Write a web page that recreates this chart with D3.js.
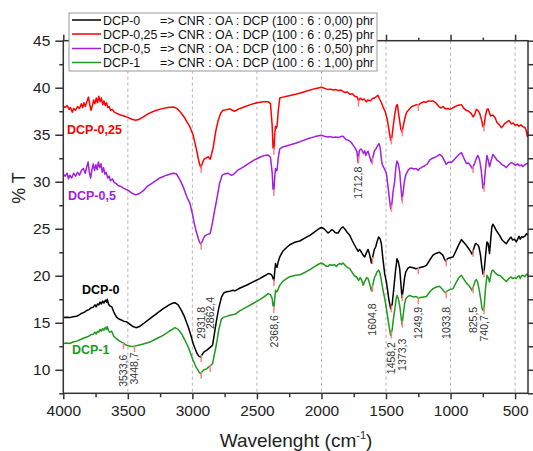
<!DOCTYPE html>
<html><head><meta charset="utf-8">
<script src="https://cdn.jsdelivr.net/npm/d3@7"></script>
<style>body{margin:0;background:#fff} svg{display:block}</style>
</head><body><svg id="c" width="533" height="451"></svg>
<script>
// ---------- DATA ----------
const xTicks = [4000, 3500, 3000, 2500, 2000, 1500, 1000, 500];
const xMinorTicks = [3750, 3250, 2750, 2250, 1750, 1250, 750];
const yTicks = [10, 15, 20, 25, 30, 35, 40, 45];
const yMinorTicks = [7.5, 12.5, 17.5, 22.5, 27.5, 32.5, 37.5, 42.5];
const gridTicks = [3500, 3000, 2500, 2000, 1500, 1000, 500];

const seriesNames = ["DCP-0", "DCP-0,25", "DCP-0,5", "DCP-1"];
const legendDesc = [
  "=> CNR : OA : DCP (100 : 6 : 0,00) phr",
  "=> CNR : OA : DCP (100 : 6 : 0,25) phr",
  "=> CNR : OA : DCP (100 : 6 : 0,50) phr",
  "=> CNR : OA : DCP (100 : 6 : 1,00) phr"
];

// [wavenumber cm-1, %T]
const dcp025 = [[4000,38.0],[3985,37.9],[3970,38.1],[3955,37.7],[3945,37.9],[3930,37.4],[3920,37.8],[3905,37.6],[3890,38.0],[3875,37.8],[3860,38.3],[3850,37.9],[3840,38.4],[3830,38.0],[3815,38.6],[3805,39.0],[3795,38.2],[3785,37.6],[3775,38.1],[3765,38.7],[3755,38.3],[3745,38.9],[3735,38.4],[3725,39.1],[3715,38.5],[3705,38.9],[3695,38.2],[3685,38.6],[3675,38.1],[3665,38.4],[3655,37.9],[3645,38.0],[3635,37.6],[3620,37.7],[3605,37.4],[3590,37.3],[3575,37.2],[3555,37.1],[3530,37.0],[3500,36.85],[3470,36.65],[3440,36.55],[3410,36.65],[3380,36.9],[3340,37.25],[3290,37.55],[3240,37.75],[3190,37.9],[3150,37.95],[3120,37.8],[3095,37.45],[3060,36.8],[3020,35.85],[2995,35.0],[2980,34.1],[2965,33.2],[2955,32.5],[2945,31.9],[2934,31.5],[2922,32.0],[2910,32.4],[2895,32.5],[2878,32.65],[2862,32.4],[2850,33.0],[2838,33.7],[2820,35.3],[2800,36.55],[2780,37.3],[2762,37.6],[2740,37.65],[2710,37.75],[2690,37.6],[2671,37.5],[2640,37.75],[2600,37.95],[2550,38.2],[2500,38.4],[2450,38.5],[2413,38.5],[2395,38.3],[2382,36.0],[2375,33.6],[2368,33.5],[2362,35.0],[2356,35.9],[2350,35.7],[2344,35.9],[2335,37.5],[2323,38.9],[2300,39.0],[2250,39.15],[2200,39.3],[2150,39.5],[2100,39.7],[2050,39.9],[2000,40.05],[1970,39.9],[1950,39.8],[1930,39.85],[1910,39.75],[1890,39.8],[1870,39.7],[1850,39.75],[1820,39.5],[1800,39.55],[1780,39.3],[1760,39.35],[1742,39.1],[1725,39.05],[1712,38.6],[1700,38.9],[1685,38.7],[1670,38.8],[1652,38.5],[1640,38.7],[1620,38.6],[1605,38.85],[1590,38.9],[1575,39.05],[1562,39.2],[1550,38.8],[1535,38.4],[1523,37.95],[1505,37.4],[1490,36.6],[1475,35.3],[1464,34.4],[1455,34.7],[1445,35.8],[1432,37.2],[1420,38.1],[1412,38.2],[1400,37.0],[1385,35.6],[1376,35.3],[1368,35.8],[1355,36.7],[1340,37.4],[1320,37.7],[1300,38.0],[1280,38.1],[1265,38.2],[1250,38.15],[1230,38.35],[1210,38.5],[1190,38.45],[1170,38.6],[1150,38.55],[1136,38.6],[1115,38.4],[1090,38.0],[1075,37.85],[1059,38.0],[1040,37.75],[1020,37.8],[1007,37.7],[990,37.8],[970,37.95],[950,38.1],[930,38.15],[916,38.2],[900,37.85],[880,37.6],[860,37.5],[839,37.25],[825,36.9],[812,37.2],[800,37.7],[788,37.6],[775,37.3],[760,36.6],[749,35.85],[740,36.0],[730,37.0],[718,37.7],[710,37.75],[700,37.4],[690,37.0],[672,37.1],[655,36.8],[640,36.3],[625,36.1],[607,35.75],[595,35.9],[580,36.2],[565,36.35],[550,36.5],[543,36.45],[530,36.15],[515,36.25],[500,36.0],[485,36.1],[470,35.9],[455,36.05],[440,35.85],[425,35.8],[415,35.5],[405,34.8],[400,35.3]];

const dcp05 = [[4000,30.8],[3985,30.6],[3970,30.9],[3960,30.3],[3950,30.7],[3935,30.4],[3920,30.9],[3905,30.6],[3890,31.0],[3875,30.7],[3860,31.2],[3845,31.4],[3830,30.9],[3818,31.6],[3808,32.1],[3798,31.0],[3788,30.4],[3778,31.3],[3768,31.9],[3758,31.2],[3748,31.8],[3738,31.3],[3728,32.1],[3718,31.5],[3708,31.9],[3698,31.0],[3688,31.5],[3678,30.8],[3668,31.0],[3655,30.4],[3645,30.6],[3635,30.1],[3620,30.3],[3605,29.9],[3590,29.8],[3575,29.6],[3555,29.5],[3530,29.3],[3500,29.1],[3470,28.8],[3440,28.6],[3410,28.75],[3380,29.05],[3354,29.45],[3300,29.95],[3252,30.4],[3200,30.7],[3150,30.9],[3125,30.85],[3100,30.3],[3071,29.45],[3040,28.3],[3019,27.7],[3000,26.6],[2986,25.6],[2970,24.7],[2955,24.0],[2945,23.6],[2934,23.35],[2922,23.7],[2910,24.1],[2898,24.3],[2880,24.4],[2862,24.5],[2845,25.6],[2830,26.8],[2813,28.0],[2790,29.8],[2769,30.7],[2745,30.85],[2723,30.9],[2700,30.7],[2684,30.75],[2650,31.2],[2600,31.6],[2580,31.8],[2530,32.25],[2478,32.6],[2440,32.8],[2413,32.85],[2395,32.6],[2382,31.0],[2375,29.2],[2368,29.1],[2362,30.5],[2356,31.4],[2350,31.2],[2344,31.2],[2335,32.5],[2323,33.5],[2300,33.7],[2246,33.9],[2200,34.1],[2150,34.35],[2100,34.6],[2050,34.8],[2000,34.95],[1970,34.8],[1950,34.75],[1930,34.8],[1910,34.7],[1890,34.75],[1870,34.7],[1850,34.8],[1833,34.85],[1810,34.5],[1790,34.4],[1770,34.2],[1755,33.9],[1740,33.6],[1725,33.2],[1717,32.05],[1708,33.2],[1700,33.45],[1690,33.45],[1675,33.0],[1665,33.3],[1657,32.8],[1648,33.1],[1639,33.25],[1625,32.6],[1613,32.05],[1600,32.7],[1590,33.3],[1580,33.45],[1567,33.8],[1554,34.05],[1545,33.6],[1535,32.3],[1528,31.8],[1510,31.3],[1497,30.9],[1485,29.5],[1472,28.0],[1464,27.15],[1455,27.6],[1445,29.0],[1433,30.0],[1424,31.5],[1415,32.2],[1405,31.9],[1394,31.05],[1385,29.5],[1376,28.05],[1368,28.8],[1358,30.0],[1347,30.7],[1330,31.2],[1316,31.4],[1300,31.45],[1285,31.35],[1265,31.4],[1250,31.2],[1240,31.4],[1220,31.55],[1200,31.7],[1180,31.9],[1162,32.3],[1140,32.5],[1120,32.6],[1100,32.75],[1085,32.9],[1065,32.7],[1050,32.3],[1033,31.85],[1015,32.1],[994,32.05],[975,32.3],[955,32.6],[935,32.9],[916,33.1],[900,32.6],[878,31.95],[860,32.0],[845,31.7],[831,31.4],[815,31.9],[800,32.5],[788,32.8],[775,32.3],[762,31.2],[749,29.3],[740,29.6],[730,31.3],[718,32.8],[710,32.4],[698,31.6],[685,32.3],[672,32.9],[655,32.6],[640,32.3],[620,32.1],[600,31.8],[585,31.7],[568,31.5],[550,31.8],[530,32.05],[510,31.9],[495,31.75],[480,31.9],[465,31.7],[450,31.8],[440,31.6],[425,31.8],[409,31.95],[400,31.9]];

const dcp0 = [[4000,15.55],[3975,15.6],[3950,15.55],[3925,15.65],[3897,15.7],[3880,15.8],[3860,16.0],[3840,16.1],[3819,16.3],[3800,16.4],[3785,16.6],[3768,16.65],[3755,16.9],[3745,16.7],[3735,17.0],[3725,16.9],[3715,17.2],[3705,17.0],[3695,17.3],[3685,17.1],[3675,17.4],[3665,17.2],[3660,17.5],[3650,17.0],[3640,16.8],[3625,16.7],[3610,16.2],[3600,15.9],[3587,15.6],[3570,15.4],[3550,15.3],[3530,15.15],[3509,15.1],[3480,14.8],[3460,14.6],[3437,14.48],[3410,14.6],[3380,14.9],[3329,15.44],[3280,15.95],[3226,16.5],[3180,16.9],[3150,17.1],[3135,17.14],[3110,16.9],[3084,16.3],[3060,15.6],[3032,14.55],[3010,13.6],[2994,12.77],[2975,12.1],[2963,11.7],[2950,11.45],[2937,11.35],[2925,11.6],[2910,11.9],[2890,12.06],[2870,12.3],[2844,12.6],[2830,13.8],[2813,15.25],[2795,16.6],[2774,17.75],[2755,18.2],[2735,18.3],[2710,18.35],[2690,18.45],[2671,18.4],[2630,18.7],[2581,18.99],[2530,19.35],[2478,19.7],[2440,20.0],[2413,20.23],[2395,20.2],[2382,20.0],[2375,19.7],[2368,19.5],[2362,20.5],[2356,21.3],[2350,21.0],[2344,20.9],[2335,21.5],[2323,22.0],[2300,22.6],[2270,23.0],[2246,23.3],[2200,23.6],[2168,23.7],[2130,24.0],[2090,24.3],[2050,24.7],[2020,25.0],[2000,25.13],[1980,25.0],[1960,24.7],[1949,24.55],[1935,24.7],[1920,24.9],[1910,24.85],[1895,24.6],[1880,24.55],[1871,24.55],[1855,24.9],[1845,25.1],[1833,25.2],[1815,24.9],[1800,24.6],[1781,24.3],[1760,23.7],[1745,23.3],[1729,22.9],[1715,22.6],[1705,22.8],[1690,22.5],[1678,22.2],[1665,22.0],[1650,22.5],[1639,22.8],[1628,22.3],[1613,21.36],[1600,22.2],[1590,22.8],[1580,23.06],[1570,23.6],[1557,24.13],[1545,23.9],[1536,23.4],[1524,21.8],[1510,20.2],[1498,19.4],[1489,18.6],[1478,17.5],[1464,16.5],[1452,17.0],[1441,18.45],[1428,20.3],[1415,21.8],[1405,21.5],[1394,20.76],[1385,19.2],[1376,17.67],[1366,18.6],[1356,19.8],[1347,20.4],[1330,20.8],[1316,20.93],[1290,20.85],[1270,20.75],[1252,20.8],[1230,20.9],[1210,20.95],[1187,21.1],[1160,21.7],[1136,22.2],[1110,22.4],[1085,22.5],[1060,22.2],[1048,21.8],[1038,21.57],[1025,21.8],[1010,21.9],[981,22.0],[960,22.6],[940,23.2],[925,23.6],[916,23.85],[900,23.6],[878,23.24],[860,22.9],[845,22.6],[834,22.3],[820,22.9],[808,23.4],[800,23.4],[790,23.3],[780,23.06],[768,22.2],[758,21.0],[749,20.2],[740,20.5],[730,22.0],[718,23.6],[708,23.4],[698,22.36],[688,24.0],[680,25.2],[672,25.48],[660,25.2],[645,24.8],[630,24.5],[620,24.3],[600,23.8],[585,23.6],[568,23.4],[555,23.7],[540,24.0],[530,24.1],[520,23.8],[505,23.9],[491,23.6],[480,23.9],[470,24.2],[460,23.9],[450,24.15],[440,24.1],[425,24.2],[409,24.5],[400,24.3]];

const dcp1 = [[4000,12.8],[3975,12.85],[3950,12.8],[3925,12.95],[3897,13.05],[3870,13.2],[3845,13.35],[3819,13.48],[3800,13.6],[3785,13.75],[3768,13.77],[3755,14.0],[3745,13.8],[3735,14.1],[3725,14.0],[3715,14.3],[3705,14.1],[3695,14.4],[3685,14.2],[3675,14.5],[3665,14.3],[3660,14.6],[3650,14.2],[3640,14.0],[3625,14.1],[3610,13.6],[3598,13.4],[3587,13.3],[3570,13.1],[3550,12.95],[3535,12.84],[3509,12.6],[3480,12.5],[3453,12.49],[3420,12.6],[3380,12.75],[3329,12.95],[3280,13.3],[3226,13.66],[3180,14.1],[3150,14.35],[3135,14.48],[3110,14.3],[3084,13.84],[3060,13.2],[3032,12.42],[3010,11.6],[2994,11.0],[2975,10.4],[2963,10.1],[2950,9.8],[2937,9.58],[2925,9.8],[2910,10.0],[2890,10.1],[2870,10.35],[2862,10.4],[2844,10.64],[2830,11.6],[2813,12.77],[2795,14.3],[2774,15.44],[2755,15.6],[2735,15.68],[2710,15.8],[2690,15.85],[2671,15.9],[2630,16.3],[2581,16.67],[2530,17.05],[2478,17.46],[2440,17.8],[2413,18.1],[2395,18.0],[2382,17.6],[2375,16.8],[2368,16.67],[2362,17.6],[2356,18.45],[2350,18.3],[2344,18.3],[2335,18.6],[2323,18.99],[2300,19.4],[2270,19.7],[2246,19.9],[2200,20.05],[2168,20.1],[2130,20.35],[2090,20.65],[2050,21.0],[2020,21.25],[2000,21.36],[1980,21.2],[1960,21.0],[1949,21.0],[1935,21.2],[1920,21.1],[1900,21.2],[1885,21.0],[1871,21.2],[1855,21.3],[1845,21.2],[1833,21.36],[1815,21.1],[1800,20.9],[1781,20.76],[1760,20.3],[1745,20.0],[1729,19.87],[1712,19.5],[1700,19.8],[1690,19.6],[1677,19.0],[1665,19.4],[1650,19.8],[1639,19.7],[1628,19.2],[1613,18.4],[1600,19.2],[1590,19.8],[1580,20.05],[1570,20.4],[1557,20.6],[1545,20.2],[1534,19.33],[1522,18.4],[1510,17.56],[1498,16.6],[1487,15.6],[1475,14.5],[1464,13.66],[1452,14.3],[1441,15.6],[1430,16.67],[1422,17.5],[1415,17.9],[1405,17.6],[1394,16.85],[1385,15.8],[1376,14.83],[1366,15.9],[1356,17.0],[1347,17.56],[1330,17.8],[1316,17.9],[1290,17.75],[1265,17.8],[1250,17.6],[1235,17.7],[1210,17.75],[1187,17.8],[1160,18.3],[1136,18.63],[1110,18.8],[1085,18.88],[1060,18.5],[1048,18.3],[1038,18.16],[1025,18.4],[1010,18.5],[981,18.63],[960,19.2],[940,19.7],[925,19.95],[916,20.05],[900,19.7],[878,19.24],[860,19.0],[845,18.7],[834,18.45],[820,19.0],[808,19.5],[800,19.6],[790,19.3],[778,18.5],[765,17.4],[757,16.6],[749,16.3],[740,16.6],[730,18.5],[718,20.05],[708,19.8],[698,19.33],[688,20.1],[680,20.5],[672,20.6],[660,20.4],[645,20.2],[630,20.05],[620,20.05],[600,19.8],[585,19.6],[568,19.4],[555,19.6],[540,19.8],[530,19.87],[520,19.7],[505,19.8],[491,19.7],[480,19.9],[470,20.0],[460,19.7],[450,20.0],[440,20.05],[425,19.9],[409,20.2],[400,20.0]];

// Peak annotations: wavenumber, label, %T at top of rotated label, series carrying a marker
const peakWn    = [3533.6, 3448.7, 2931.8, 2862.4, 2368.6, 1712.8, 1604.8, 1458.2, 1373.3, 1249.9, 1033.8, 825.5, 740.7];
const peakText  = ["3533,6","3448,7","2931,8","2862,4","2368,6","1712,8","1604,8","1458,2","1373,3","1249,9","1033,8","825,5","740,7"];
const peakLabelT= [11.6, 11.85, 16.7, 17.75, 15.8, 31.6, 17.05, 12.95, 13.3, 16.7, 16.7, 16.7, 15.8];
const peakSeries= [["DCP-1"],["DCP-1"],["DCP-0","DCP-0,25","DCP-0,5","DCP-1"],["DCP-1"],
  ["DCP-0","DCP-0,25","DCP-0,5","DCP-1"],["DCP-0,25","DCP-0,5"],["DCP-0","DCP-0,5","DCP-1"],
  ["DCP-0","DCP-0,25","DCP-0,5","DCP-1"],["DCP-0","DCP-0,25","DCP-0,5","DCP-1"],
  ["DCP-0","DCP-0,25","DCP-1"],["DCP-0","DCP-1"],["DCP-0","DCP-0,5","DCP-1"],
  ["DCP-0","DCP-0,25","DCP-0,5","DCP-1"]];

// Inline series labels (data coordinates: wavenumber, %T baseline)
const seriesLabelWn = [3855, 3971, 3964, 3933];
const seriesLabelT  = [18.05, 35.07, 28.05, 11.67];

// ---------- DRAW ----------
const colors = {"DCP-0":"#000000","DCP-0,25":"#ff0000","DCP-0,5":"#a31ee0","DCP-1":"#1e9a1e"};
const seriesData = {"DCP-0":dcp0,"DCP-0,25":dcp025,"DCP-0,5":dcp05,"DCP-1":dcp1};
const FONT = "Arial, 'Liberation Sans', sans-serif";

const svg = d3.select("#c");
const x = d3.scaleLinear().domain([4000, 400]).range([63.3, 528]);
const y = d3.scaleLinear().domain([7.5, 45]).range([393.3, 40.7]);

// grid
svg.append("g").selectAll("line").data(gridTicks).join("line")
  .attr("x1", d => x(d)).attr("x2", d => x(d))
  .attr("y1", y(45)).attr("y2", y(7.5))
  .attr("stroke", "#b4b4b4").attr("stroke-width", 1).attr("stroke-dasharray", "3,3");

// curves
const line = d3.line().x(d => x(d[0])).y(d => y(d[1]));
const plot = svg.append("g");
seriesNames.forEach(n => {
  plot.append("path").datum(seriesData[n]).attr("d", line)
    .attr("fill", "none").attr("stroke", colors[n]).attr("stroke-width", 1.5)
    .attr("stroke-linejoin", "round");
});

function valueAt(data, wn) {
  for (let i = 0; i < data.length - 1; i++) {
    const a = data[i], b = data[i + 1];
    if (wn <= a[0] && wn >= b[0]) {
      const t = (a[0] - wn) / (a[0] - b[0]);
      return a[1] + t * (b[1] - a[1]);
    }
  }
  return data[data.length - 1][1];
}

// peak markers
const marks = [];
peakWn.forEach((wn, i) => peakSeries[i].forEach(n => marks.push({wn, T: valueAt(seriesData[n], wn)})));
svg.append("g").selectAll("line").data(marks).join("line")
  .attr("x1", d => x(d.wn)).attr("x2", d => x(d.wn))
  .attr("y1", d => y(d.T) - 1).attr("y2", d => y(d.T) + 6)
  .attr("stroke", "#ff8080").attr("stroke-width", 1.5);

// peak labels
svg.append("g").selectAll("text").data(peakWn).join("text")
  .attr("transform", (d, i) => `translate(${x(d)},${y(peakLabelT[i])}) rotate(-90)`)
  .attr("text-anchor", "end").attr("dy", "0.36em")
  .attr("font-family", FONT).attr("font-size", 10.5).attr("fill", "#333")
  .text((d, i) => peakText[i]);

// series labels
svg.append("g").selectAll("text").data(seriesNames).join("text")
  .attr("x", (d, i) => x(seriesLabelWn[i])).attr("y", (d, i) => y(seriesLabelT[i]))
  .attr("font-family", FONT).attr("font-size", 12.5).attr("font-weight", "bold")
  .attr("fill", d => colors[d]).text(d => d);

// frame
svg.append("rect").attr("x", x(4000)).attr("y", y(45))
  .attr("width", x(400) - x(4000)).attr("height", y(7.5) - y(45))
  .attr("fill", "none").attr("stroke", "#333").attr("stroke-width", 1.5);

function styleAxis(g) {
  g.select(".domain").remove();
  g.selectAll(".tick line").attr("stroke", "#333").attr("stroke-width", 1.5);
  g.selectAll("text").attr("font-family", FONT).attr("font-size", 15.5).attr("fill", "#222");
}
// left
svg.append("g").attr("transform", `translate(${x(4000)},0)`)
  .call(d3.axisLeft(y).tickValues(yTicks).tickSize(8).tickPadding(5)).call(styleAxis);
svg.append("g").attr("transform", `translate(${x(4000)},0)`)
  .call(d3.axisLeft(y).tickValues(yMinorTicks).tickSize(4).tickFormat("")).call(styleAxis);
// right
svg.append("g").attr("transform", `translate(${x(400)},0)`)
  .call(d3.axisRight(y).tickValues(yTicks.concat(yMinorTicks)).tickSize(5).tickFormat("")).call(styleAxis);
// bottom
svg.append("g").attr("transform", `translate(0,${y(7.5)})`)
  .call(d3.axisBottom(x).tickValues(xTicks).tickSize(6).tickPadding(6).tickFormat(d3.format("d"))).call(styleAxis);
svg.append("g").attr("transform", `translate(0,${y(7.5)})`)
  .call(d3.axisBottom(x).tickValues(xMinorTicks).tickSize(4).tickFormat("")).call(styleAxis);
// top
svg.append("g").attr("transform", `translate(0,${y(45)})`)
  .call(d3.axisTop(x).tickValues(xTicks).tickSize(6).tickFormat("")).call(styleAxis);
svg.append("g").attr("transform", `translate(0,${y(45)})`)
  .call(d3.axisTop(x).tickValues(xMinorTicks).tickSize(3).tickFormat("")).call(styleAxis);

// axis titles
svg.append("text").attr("transform", "translate(25,188) rotate(-90)")
  .attr("text-anchor", "middle").attr("font-family", FONT).attr("font-size", 18).attr("fill", "#222")
  .text("% T");
const xt = svg.append("text").attr("x", 296).attr("y", 447).attr("text-anchor", "middle")
  .attr("font-family", FONT).attr("font-size", 19).attr("fill", "#222");
xt.append("tspan").text("Wavelenght (cm");
xt.append("tspan").attr("font-size", 11).attr("dy", -8).text("-1");
xt.append("tspan").attr("dy", 8).text(")");

// legend
const lg = svg.append("g");
lg.append("rect").attr("x", 69).attr("y", 13).attr("width", 308).attr("height", 58)
  .attr("fill", "#fff").attr("stroke", "#999").attr("stroke-width", 1);
const rowY = [20, 34, 48.5, 62.5];
seriesNames.forEach((n, i) => {
  lg.append("line").attr("x1", 72).attr("x2", 101).attr("y1", rowY[i]).attr("y2", rowY[i])
    .attr("stroke", colors[n]).attr("stroke-width", 1.5);
  lg.append("text").attr("x", 103).attr("y", rowY[i] + 4.5)
    .attr("font-family", FONT).attr("font-size", 12.4).attr("fill", "#111").text(n);
  lg.append("text").attr("x", 160).attr("y", rowY[i] + 4.5)
    .attr("font-family", FONT).attr("font-size", 12.4).attr("fill", "#111").text(legendDesc[i]);
});
</script></body></html>
